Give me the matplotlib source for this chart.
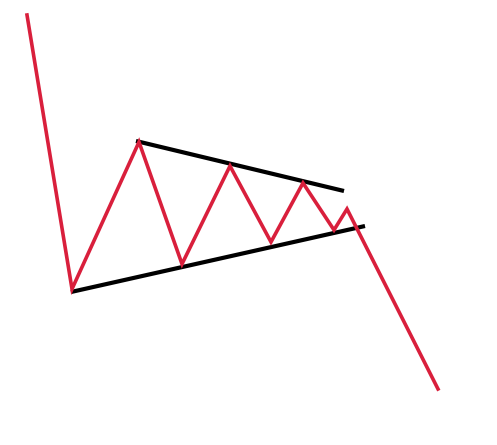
import matplotlib
matplotlib.use('agg')
import matplotlib.pyplot as plt

# price path (pixel-like coordinates, y grows downward)
price_x = [27, 72, 139, 182, 230, 271, 303, 334, 347, 438]
price_y = [15, 289, 142, 264, 166, 242, 183, 230, 209, 389]

# trend lines of the symmetrical triangle
upper_x = [136, 344]
upper_y = [141, 191]
lower_x = [71, 365]
lower_y = [292, 226]

fig = plt.figure(figsize=(4.97, 4.45), dpi=100)
ax = fig.add_axes([0, 0, 1, 1])
ax.plot(upper_x, upper_y, color='black', linewidth=3, solid_capstyle='butt')
ax.plot(lower_x, lower_y, color='black', linewidth=3, solid_capstyle='butt')
ax.plot(price_x, price_y, color='#d91f3c', linewidth=2.6, solid_joinstyle='miter')
ax.set_xlim(0, 497)
ax.set_ylim(445, 0)
ax.axis('off')
fig.savefig('out.png', dpi=100)
